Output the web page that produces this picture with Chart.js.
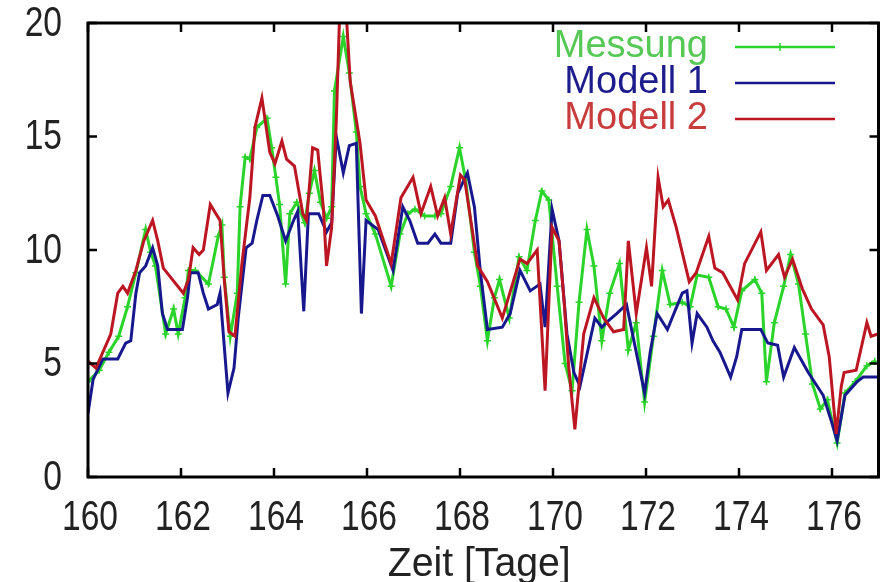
<!DOCTYPE html>
<html>
<head>
<meta charset="utf-8">
<script src="https://cdn.jsdelivr.net/npm/chart.js@4.4.1/dist/chart.umd.min.js"></script>
<style>
  html, body { margin: 0; padding: 0; background: #fff; }
  #wrap { width: 884px; height: 582px; }
</style>
</head>
<body>
<div id="wrap"><canvas id="chart" width="884" height="582"></canvas></div>
<script>
// Messung (measured)
const messungTage = [160.00,160.24,160.45,160.66,160.85,161.03,161.24,161.35,161.45,161.67,161.84,161.94,162.09,162.16,162.31,162.59,162.80,162.88,162.93,163.06,163.21,163.27,163.38,163.48,163.63,163.85,163.95,164.04,164.12,164.25,164.34,164.49,164.66,164.76,164.87,165.00,165.13,165.24,165.30,165.49,165.62,165.77,165.85,165.98,166.18,166.52,166.71,166.88,167.03,167.24,167.46,167.59,167.80,167.99,168.12,168.31,168.44,168.59,168.74,168.85,169.06,169.27,169.44,169.62,169.76,169.91,170.09,170.26,170.41,170.56,170.73,170.88,171.05,171.22,171.43,171.62,171.79,171.97,172.16,172.35,172.52,172.78,172.95,173.10,173.35,173.55,173.72,173.89,174.06,174.34,174.49,174.59,174.76,174.96,175.11,175.28,175.43,175.58,175.75,175.90,176.11,176.28,176.50,176.75,176.92];
const messungWerte = [4.2,4.7,5.5,6.2,7.5,9.0,10.9,9.9,9.3,6.3,7.4,6.3,7.9,9.1,9.1,8.5,10.6,11.1,8.8,6.2,8.1,11.9,14.1,14.0,15.4,15.8,14.5,13.2,12.0,8.5,11.6,12.1,11.2,12.5,13.5,12.1,11.4,11.9,17.0,19.4,17.8,15.2,12.8,11.6,10.7,8.4,10.7,11.6,11.8,11.5,11.5,11.6,12.8,14.5,13.1,9.9,8.4,6.0,7.9,8.7,7.0,9.7,9.1,11.3,12.6,12.2,8.4,5.0,3.8,7.7,10.9,9.3,6.0,8.1,9.4,5.6,6.8,3.3,6.2,9.1,7.6,7.7,7.5,8.9,8.8,7.5,7.4,6.6,8.2,8.7,8.1,4.2,6.8,8.4,9.8,8.5,6.3,4.1,3.0,3.4,1.5,3.7,4.2,4.9,5.1];

// Modell 1
const modell1Tage = [160.00,160.11,160.32,160.64,160.81,160.92,161.03,161.11,161.24,161.39,161.50,161.60,161.71,162.03,162.14,162.20,162.37,162.48,162.59,162.78,162.84,163.01,163.14,163.23,163.40,163.53,163.63,163.76,163.91,164.08,164.25,164.42,164.51,164.64,164.74,164.96,165.13,165.24,165.34,165.49,165.62,165.77,165.88,165.98,166.24,166.56,166.77,166.92,167.09,167.31,167.46,167.59,167.80,167.95,168.16,168.31,168.44,168.59,168.91,169.08,169.29,169.51,169.72,169.83,169.98,170.13,170.30,170.45,170.58,170.90,171.05,171.20,171.37,171.58,171.84,171.97,172.09,172.24,172.46,172.78,172.88,172.99,173.10,173.31,173.44,173.59,173.82,173.95,174.06,174.47,174.62,174.83,174.96,175.19,175.49,175.81,175.98,176.11,176.28,176.54,176.67,176.99];
const modell1Werte = [2.8,4.3,5.2,5.2,5.9,6.0,8.1,9.0,9.3,10.1,9.3,7.2,6.5,6.5,7.9,9.0,9.0,8.1,7.4,7.6,8.1,3.7,4.8,7.0,10.1,10.3,11.3,12.4,12.4,11.5,10.4,11.3,11.7,7.3,11.6,11.6,10.8,11.2,15.0,13.4,14.6,14.7,7.2,11.3,10.9,9.1,11.9,11.3,10.3,10.3,10.7,10.3,10.3,12.5,13.4,11.9,9.0,6.5,6.6,7.2,9.1,8.2,8.5,6.6,11.8,10.4,6.3,4.6,4.0,7.0,6.6,6.9,7.2,7.6,5.0,3.7,5.5,7.2,6.5,8.1,8.2,5.9,7.2,6.6,6.0,5.5,4.4,5.3,6.5,6.5,5.9,5.8,4.4,5.7,4.6,3.6,2.5,1.6,3.6,4.2,4.4,4.4];

// Modell 2
const modell2Tage = [160.00,160.17,160.49,160.64,160.75,160.85,161.03,161.20,161.39,161.50,161.62,162.05,162.16,162.26,162.39,162.48,162.63,162.84,162.93,163.03,163.16,163.31,163.48,163.59,163.74,163.91,164.02,164.17,164.27,164.44,164.62,164.70,164.83,164.94,165.06,165.13,165.24,165.34,165.41,165.56,165.64,165.85,165.98,166.18,166.52,166.73,166.99,167.16,167.37,167.52,167.67,167.80,168.01,168.10,168.38,168.59,168.91,169.29,169.44,169.66,169.83,169.98,170.13,170.24,170.34,170.47,170.66,170.88,171.09,171.30,171.52,171.62,171.79,172.01,172.12,172.26,172.37,172.48,172.65,172.93,173.08,173.35,173.48,173.65,173.97,174.12,174.47,174.59,174.85,174.98,175.15,175.36,175.56,175.81,175.94,176.09,176.20,176.26,176.52,176.75,176.84,176.99];
const modell2Werte = [5.1,4.8,6.3,8.1,8.4,8.1,9.1,10.4,11.3,10.4,9.2,8.1,8.7,10.1,9.8,10.0,12.0,11.3,8.7,6.4,6.2,9.4,12.3,15.4,16.7,14.3,13.8,14.8,14.0,13.7,11.6,11.3,14.5,14.4,11.9,9.3,11.0,15.7,20.3,20.2,17.4,14.7,12.2,11.5,9.4,12.3,13.2,11.6,12.8,11.5,12.3,10.7,13.3,13.1,9.3,8.6,7.0,9.6,9.4,10.0,3.8,11.0,10.4,7.7,4.8,2.1,6.3,7.9,7.0,6.4,6.5,10.4,7.2,10.1,8.4,13.2,11.9,12.2,11.0,8.6,9.0,10.6,9.2,9.0,7.8,9.4,10.8,9.1,9.8,8.8,9.6,8.3,7.4,6.7,5.3,1.9,4.0,4.6,4.7,6.8,6.2,6.3];

const xTicks = [160, 162, 164, 166, 168, 170, 172, 174, 176];
const yTicks = [0, 5, 10, 15, 20];
const xTitel = 'Zeit [Tage]';

const serienNamen = ['Messung', 'Modell 1', 'Modell 2'];
const linienFarben = ['#2ad42a', '#18188e', '#bb1622'];
const textFarben = ['#55c855', '#1c1c8c', '#c83c3c'];

function toPoints(tage, werte) {
    return tage.map((t, i) => ({ x: t, y: werte[i] }));
}

const FONT = '"Liberation Sans", Arial, sans-serif';

// draw text squeezed horizontally (the original labels are condensed)
function squeezedText(ctx, text, x, y, align, sx) {
    ctx.save();
    ctx.translate(x, y);
    ctx.scale(sx, 1);
    ctx.textAlign = align;
    ctx.fillText(text, 0, 0);
    ctx.restore();
}

// gnuplot style frame with inward ticks and labels
const framePlugin = {
    id: 'frame',
    afterDatasetsDraw(chart) {
        const ctx = chart.ctx;
        const a = chart.chartArea;
        const xs = chart.scales.x;
        const ys = chart.scales.y;
        ctx.save();
        ctx.strokeStyle = '#000';
        ctx.lineWidth = 3;
        ctx.strokeRect(a.left, a.top, a.right - a.left, a.bottom - a.top);
        ctx.lineWidth = 2.5;
        ctx.beginPath();
        xTicks.forEach(v => {
            const px = xs.getPixelForValue(v);
            ctx.moveTo(px, a.bottom); ctx.lineTo(px, a.bottom - 9);
            ctx.moveTo(px, a.top); ctx.lineTo(px, a.top + 9);
        });
        yTicks.forEach(v => {
            const py = ys.getPixelForValue(v);
            ctx.moveTo(a.left, py); ctx.lineTo(a.left + 9, py);
            ctx.moveTo(a.right, py); ctx.lineTo(a.right - 9, py);
        });
        ctx.stroke();

        ctx.fillStyle = '#222';
        ctx.textBaseline = 'middle';
        ctx.font = '42px ' + FONT;
        xTicks.forEach(v => {
            squeezedText(ctx, String(v), xs.getPixelForValue(v) + 2, a.bottom + 41, 'center', 0.8);
        });
        yTicks.forEach(v => {
            squeezedText(ctx, String(v), a.left - 26, ys.getPixelForValue(v) + 1, 'right', 0.8);
        });
        ctx.font = '40px ' + FONT;
        squeezedText(ctx, xTitel, (a.left + a.right) / 2 - 4, 565, 'center', 0.98);
        ctx.restore();
    }
};

// legend: text right aligned, sample line to the right
const legendPlugin = {
    id: 'gpLegend',
    afterDraw(chart) {
        const ctx = chart.ctx;
        ctx.save();
        ctx.font = '38px ' + FONT;
        ctx.textAlign = 'right';
        ctx.textBaseline = 'middle';
        const rows = [47, 83, 119];
        serienNamen.forEach((name, i) => {
            const y = rows[i];
            ctx.fillStyle = textFarben[i];
            ctx.fillText(name, 708, y);
            ctx.strokeStyle = linienFarben[i];
            ctx.lineWidth = 2.5;
            ctx.beginPath();
            ctx.moveTo(735, y);
            ctx.lineTo(835, y);
            ctx.stroke();
            if (i === 0) {
                ctx.lineWidth = 1.5;
                ctx.beginPath();
                ctx.moveTo(780, y - 4); ctx.lineTo(780, y + 4);
                ctx.moveTo(776, y); ctx.lineTo(784, y);
                ctx.stroke();
            }
        });
        ctx.restore();
    }
};

const ctx = document.getElementById('chart').getContext('2d');
new Chart(ctx, {
    type: 'line',
    data: {
        datasets: [
            {
                label: serienNamen[0],
                data: toPoints(messungTage, messungWerte),
                borderColor: linienFarben[0],
                backgroundColor: linienFarben[0],
                borderWidth: 3,
                pointStyle: 'cross',
                pointRadius: 3.5,
                pointBorderWidth: 1.5,
                tension: 0,
                order: 2
            },
            {
                label: serienNamen[1],
                data: toPoints(modell1Tage, modell1Werte),
                borderColor: linienFarben[1],
                borderWidth: 3,
                pointRadius: 0,
                tension: 0,
                order: 1
            },
            {
                label: serienNamen[2],
                data: toPoints(modell2Tage, modell2Werte),
                borderColor: linienFarben[2],
                borderWidth: 3,
                pointRadius: 0,
                tension: 0,
                order: 0
            }
        ]
    },
    options: {
        responsive: false,
        animation: false,
        layout: { padding: { left: 0, right: 3, top: 23, bottom: 0 } },
        plugins: {
            legend: { display: false },
            tooltip: { enabled: false }
        },
        scales: {
            x: {
                type: 'linear',
                min: 160,
                max: 177,
                ticks: { stepSize: 2, includeBounds: false, display: false },
                grid: { display: false, drawTicks: false },
                border: { display: false },
                afterFit: function (scale) {
                    scale.height = 105;
                    scale.paddingLeft = 0;
                    scale.paddingRight = 0;
                }
            },
            y: {
                min: 0,
                max: 20,
                ticks: { stepSize: 5, display: false },
                grid: { display: false, drawTicks: false },
                border: { display: false },
                afterFit: function (scale) {
                    scale.width = 88;
                    scale.paddingTop = 0;
                    scale.paddingBottom = 0;
                }
            }
        }
    },
    plugins: [framePlugin, legendPlugin]
});
</script>
</body>
</html>
